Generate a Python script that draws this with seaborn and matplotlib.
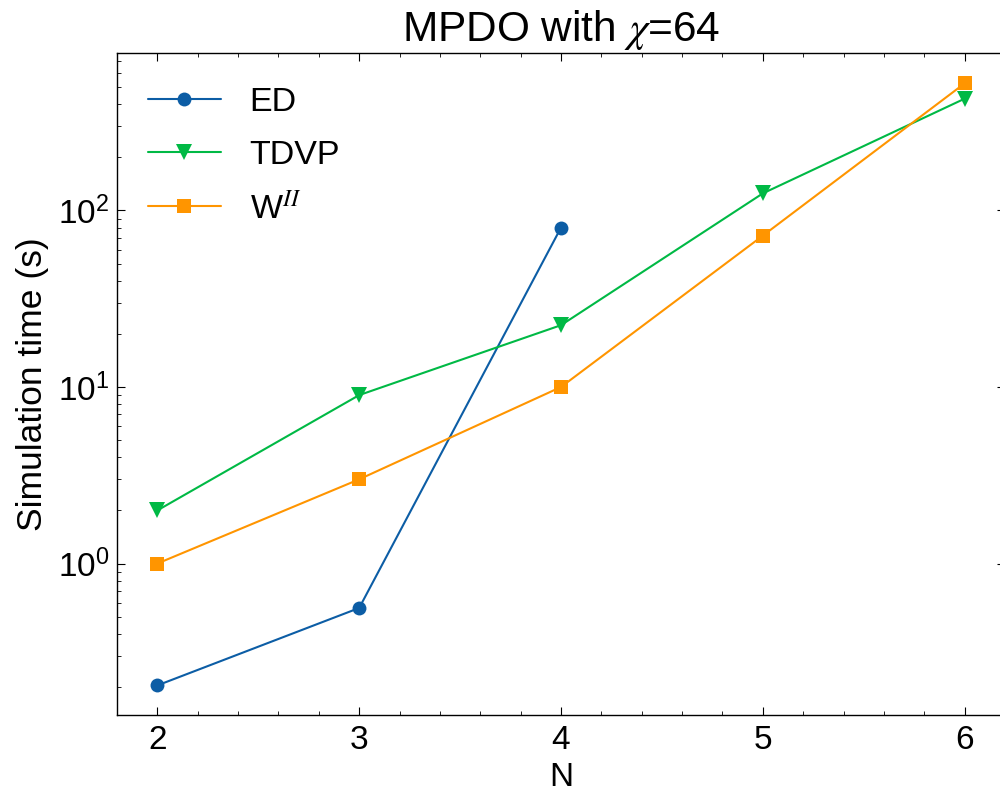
import numpy as np
import pandas as pd
import matplotlib
matplotlib.use("Agg")
import matplotlib.pyplot as plt
import seaborn as sns

ed_n = [2, 3, 4]
ed_t = [0.204, 0.56, 80]
tdvp_n = [2, 3, 4, 5, 6]
tdvp_t = [2.0, 9.0, 22.4, 125, 430]
w_n = [2, 3, 4, 5, 6]
w_t = [1.0, 3.0, 10.0, 72, 525]

sns.set_style("ticks")
plt.rcParams['font.family'] = ['Liberation Sans', 'DejaVu Sans']
plt.rcParams['mathtext.fontset'] = 'stix'
plt.rcParams['mathtext.rm'] = 'Liberation Sans'
plt.rcParams.update({
    'text.color': 'black', 'axes.labelcolor': 'black',
    'xtick.color': 'black', 'ytick.color': 'black',
    'axes.edgecolor': 'black',
    'xtick.direction': 'in', 'ytick.direction': 'in',
    'xtick.top': True, 'ytick.right': True,
    'xtick.minor.visible': True, 'ytick.minor.visible': True,
    'xtick.major.size': 6, 'ytick.major.size': 6,
    'xtick.minor.size': 3, 'ytick.minor.size': 3,
    'axes.linewidth': 1.0,
})

fig = plt.figure(figsize=(10, 7.96), dpi=100)
ax = fig.add_axes([0.117, 0.102, 0.888, 0.832])

df_ed = pd.DataFrame({"N": ed_n, "t": ed_t})
df_td = pd.DataFrame({"N": tdvp_n, "t": tdvp_t})
df_w = pd.DataFrame({"N": w_n, "t": w_t})

sns.lineplot(data=df_ed, x="N", y="t", ax=ax, color="#0C5DA5", marker="o",
             markersize=10, markeredgewidth=0, linewidth=1.5, label="ED")
sns.lineplot(data=df_td, x="N", y="t", ax=ax, color="#00B945", marker="v",
             markersize=11, markeredgewidth=0, linewidth=1.5, label="TDVP")
sns.lineplot(data=df_w, x="N", y="t", ax=ax, color="#FF9500", marker="s",
             markersize=10, markeredgewidth=0, linewidth=1.5, label="W$^{II}$")

ax.set_yscale("log")
ax.set_xlim(1.8, 6.2)
ax.set_ylim(0.139, 785)
ax.set_xticks([2, 3, 4, 5, 6])
ax.xaxis.set_minor_locator(matplotlib.ticker.MultipleLocator(0.2))
ax.tick_params(labelsize=24)
ax.tick_params(axis='x', pad=7)
ax.tick_params(axis='y', pad=5.5)
ax.set_xlabel("N", fontsize=24, labelpad=5)
ax.set_ylabel("Simulation time (s)", fontsize=25.5, labelpad=6)
ax.set_title(r"MPDO with $\chi$=64", fontsize=30.5, pad=8)
for s in ax.spines.values():
    s.set_visible(True)
leg = ax.legend(loc="upper left", bbox_to_anchor=(0, 0.994), frameon=False,
                fontsize=24.5, handlelength=2.15, borderaxespad=0.5,
                labelspacing=0.64, handletextpad=0.85)

fig.savefig("out.png", dpi=100)
